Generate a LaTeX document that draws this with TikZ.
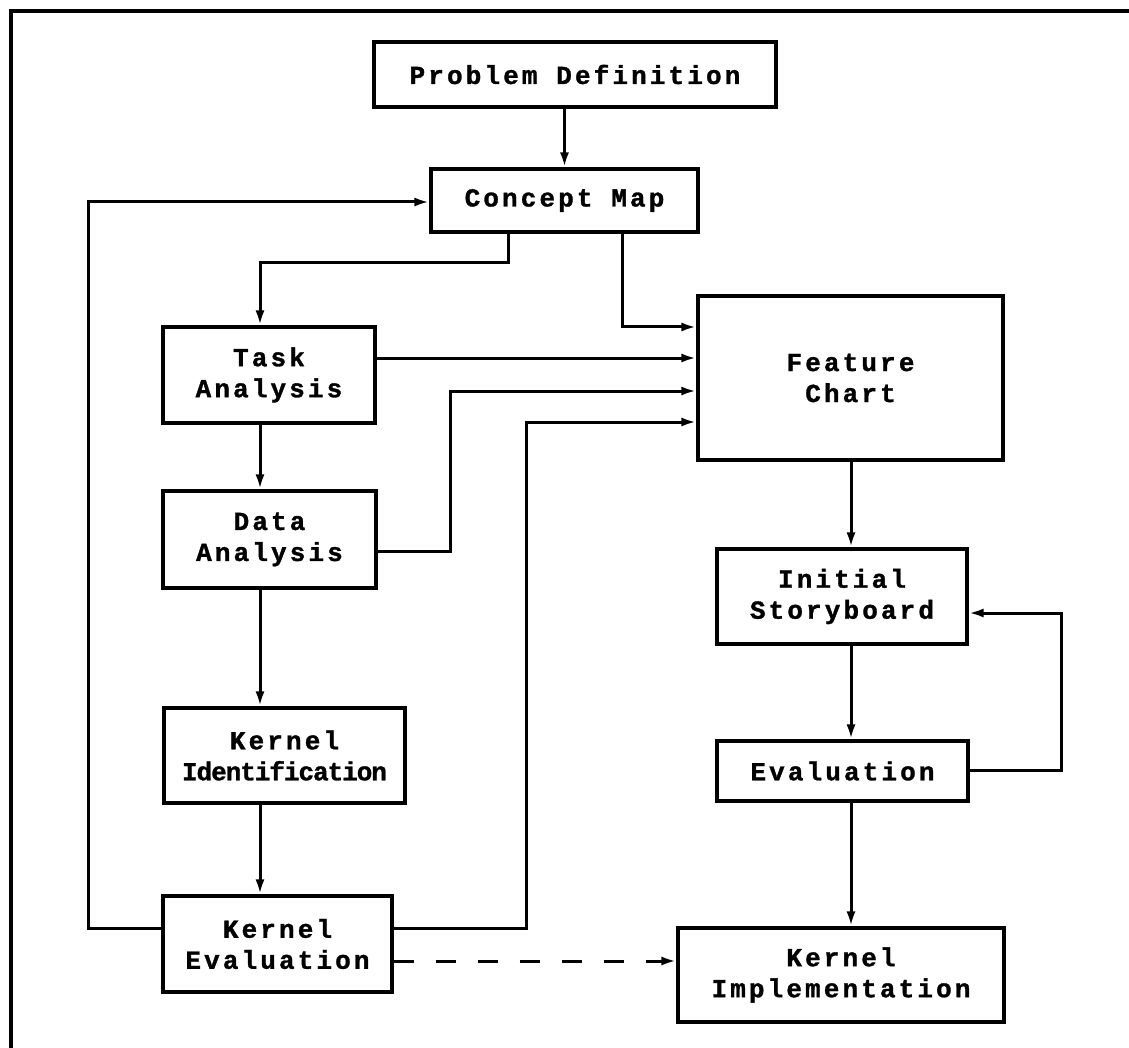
\documentclass[tikz,border=0pt]{standalone}
\usepackage{fontspec}
\newfontfamily\boxfont{Liberation Mono}[BoldFont={Liberation Mono Bold}, BoldFeatures={FakeBold=1.2}, LetterSpace=12]
\newfontfamily\tightfont{Liberation Mono}[BoldFont={Liberation Mono Bold}, BoldFeatures={FakeBold=1.2}, LetterSpace=-4]
\usetikzlibrary{arrows.meta}
\begin{document}
\begin{tikzpicture}[x=1pt,y=-1pt,
  line width=3pt,
  stepbox/.style={draw, rectangle, align=center, inner sep=0pt, line width=3.2pt,
    font=\boxfont\bfseries\fontsize{26}{31}\selectfont},
  arr/.style={-{Latex[length=15pt,width=9pt]}, line width=3pt}]
\useasboundingbox (0,0) rectangle (1129,1048);
% outer frame (top and left edges)
\draw[line width=3.4pt] (11,1048) -- (11,11) -- (1129,11);

% process boxes
\node[stepbox, minimum width=402pt, minimum height=65pt] (pd) at (575,74.5) {Problem Definition};
\node[stepbox, minimum width=267pt, minimum height=63pt] (cm) at (564.5,200.5) {Concept Map};
\node[stepbox, minimum width=305pt, minimum height=164pt] (fc) at (850.5,378) {Feature\\Chart};
\node[stepbox, minimum width=212pt, minimum height=96pt] (ta) at (269,375) {Task\\Analysis};
\node[stepbox, minimum width=213pt, minimum height=97pt] (da) at (269.5,539.5) {Data\\Analysis};
\node[stepbox, minimum width=241pt, minimum height=95pt] (ki) at (284.5,755.5) {Kernel\\{\tightfont\bfseries Identification}};
\node[stepbox, minimum width=229pt, minimum height=96pt] (ke) at (277.5,944) {Kernel\\Evaluation};
\node[stepbox, minimum width=250pt, minimum height=95pt] (is) at (842,596.5) {Initial\\Storyboard};
\node[stepbox, minimum width=251pt, minimum height=60pt] (ev) at (842.5,771) {Evaluation};
\node[stepbox, minimum width=326pt, minimum height=94pt] (kim) at (841,975) {Kernel\\Implementation};

% routing points
\coordinate (fbl) at (88,928);
\coordinate (fbt) at (88,202);
\coordinate (cmA) at (508,263);
\coordinate (cmB) at (260,263);
\coordinate (cmC) at (622,327);
\coordinate (taF) at (500,358);
\coordinate (daA) at (450,551);
\coordinate (daB) at (450,391);
\coordinate (keA) at (526,928);
\coordinate (keB) at (526,422);
\coordinate (evA) at (1061,770);
\coordinate (evB) at (1061,613);
\coordinate (keD) at (500,961);
\coordinate (lx) at (260,0);
\coordinate (rx) at (851,0);

% main flow
\draw[arr] (cm.north |- pd.south) -- (cm.north);
\draw[arr] (cm.south -| cmA) -- (cmA) -- (cmB) -- (ta.north -| cmB);
\draw[arr] (cm.south -| cmC) -- (cmC) -- (fc.west |- cmC);
\draw[arr] (ta.east |- taF) -- (fc.west |- taF);
\draw[arr] (da.east |- daA) -- (daA) -- (daB) -- (fc.west |- daB);
\draw[arr] (ke.east |- keA) -- (keA) -- (keB) -- (fc.west |- keB);
\draw[arr] (ta.south -| lx) -- (da.north -| lx);
\draw[arr] (da.south -| lx) -- (ki.north -| lx);
\draw[arr] (ki.south -| lx) -- (ke.north -| lx);
\draw[arr] (ke.west |- fbl) -- (fbl) -- (fbt) -- (cm.west |- fbt);
\draw[arr] (fc.south -| rx) -- (is.north -| rx);
\draw[arr] (is.south -| rx) -- (ev.north -| rx);
\draw[arr] (ev.east |- evA) -- (evA) -- (evB) -- (is.east |- evB);
\draw[arr] (ev.south -| rx) -- (kim.north -| rx);
\draw[arr, dash pattern=on 20pt off 22pt] (ke.east |- keD) -- (kim.west |- keD);
\end{tikzpicture}
\end{document}
